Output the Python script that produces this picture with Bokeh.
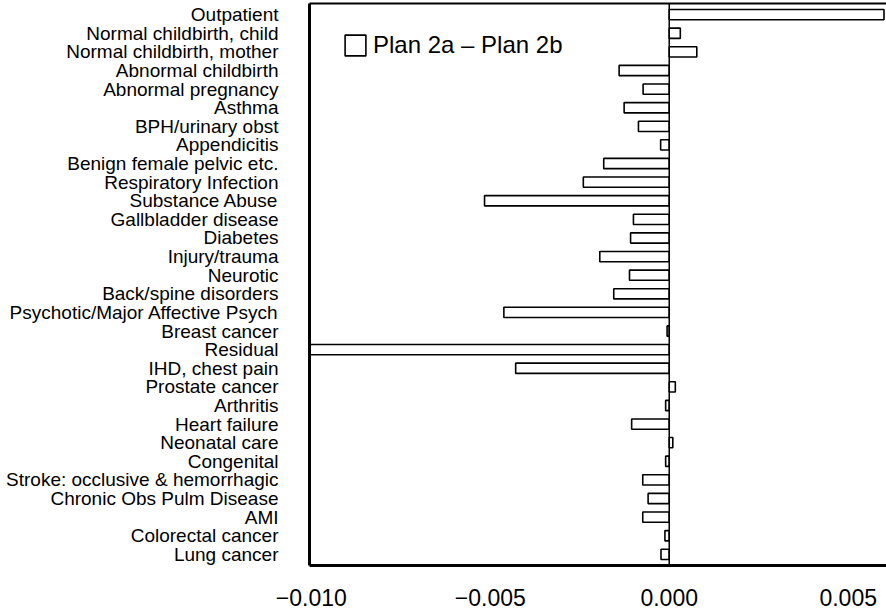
from bokeh.plotting import figure
from bokeh.models import (ColumnDataSource, FactorRange, Range1d, FixedTicker,
                          CustomJSTickFormatter, Span, LinearAxis, Legend, LegendItem)
from bokeh.embed import file_html
from bokeh.resources import INLINE

categories = [
    "Outpatient", "Normal childbirth, child", "Normal childbirth, mother",
    "Abnormal childbirth", "Abnormal pregnancy", "Asthma", "BPH/urinary obst",
    "Appendicitis", "Benign female pelvic etc.", "Respiratory Infection",
    "Substance Abuse", "Gallbladder disease", "Diabetes", "Injury/trauma",
    "Neurotic", "Back/spine disorders", "Psychotic/Major Affective Psych",
    "Breast cancer", "Residual", "IHD, chest pain", "Prostate cancer",
    "Arthritis", "Heart failure", "Neonatal care", "Congenital",
    "Stroke: occlusive & hemorrhagic", "Chronic Obs Pulm Disease", "AMI",
    "Colorectal cancer", "Lung cancer",
]
diff_2a_2b = [
    0.00600, 0.00031, 0.00077,
    -0.00140, -0.00073, -0.00126, -0.00086,
    -0.00024, -0.00183, -0.00240,
    -0.00516, -0.00100, -0.00108, -0.00194,
    -0.00111, -0.00155, -0.00462,
    -0.00006, -0.01100, -0.00429, 0.00017,
    -0.00010, -0.00105, 0.00010, -0.00010,
    -0.00074, -0.00059, -0.00074,
    -0.00012, -0.00023,
]
tick_values = [-0.010, -0.005, 0.000, 0.005]
tick_labels = ["\u22120.010", "\u22120.005", "0.000", "0.005"]
series_label = "Plan 2a \u2013 Plan 2b"

FONT = "Liberation Sans"

src = ColumnDataSource(dict(cat=categories, val=diff_2a_2b, zero=[0.0] * len(categories)))

p = figure(width=886, height=611, output_backend="svg", toolbar_location=None,
           y_range=FactorRange(factors=list(reversed(categories)),
                               range_padding=0.1, range_padding_units="absolute"),
           x_range=Range1d(-0.01005, 0.00607),
           min_border_left=309, min_border_right=0, min_border_top=3, min_border_bottom=46)

p.grid.visible = False
p.outline_line_color = None
p.background_fill_color = "white"
p.border_fill_color = "white"

r = p.hbar(y="cat", left="zero", right="val", height=0.55, source=src,
           fill_color="white", line_color="black", line_width=1.6)

p.add_layout(Span(location=0, dimension="height", line_color="black", line_width=1.5))

# axes
xa = p.xaxis[0]
xa.ticker = FixedTicker(ticks=tick_values)
xa.formatter = CustomJSTickFormatter(args=dict(tvals=tick_values, tlabels=tick_labels), code="""
    for (let i = 0; i < tvals.length; i++) {
        if (Math.abs(tick - tvals[i]) < 1e-9) return tlabels[i];
    }
    return '';
""")
xa.axis_line_width = 3
xa.axis_line_color = "black"
xa.major_tick_line_color = None
xa.minor_tick_line_color = None
xa.major_label_text_font = FONT
xa.major_label_text_font_size = "23px"
xa.major_label_text_color = "black"
xa.major_label_standoff = 17

ya = p.yaxis[0]
ya.axis_line_width = 3
ya.axis_line_color = "black"
ya.major_tick_line_color = None
ya.minor_tick_line_color = None
ya.major_tick_out = 0
ya.major_label_text_font = FONT
ya.major_label_text_font_size = "19px"
ya.major_label_text_color = "black"
ya.major_label_standoff = 31

top = LinearAxis(axis_line_width=2, axis_line_color="black",
                 major_tick_line_color=None, minor_tick_line_color=None,
                 major_label_text_color=None, major_label_text_font_size="1px",
                 major_label_standoff=0, major_tick_out=0, major_tick_in=0)
top.ticker = FixedTicker(ticks=[])
p.add_layout(top, "above")

legend = Legend(items=[LegendItem(label=series_label, renderers=[r])],
                border_line_color=None,
                background_fill_alpha=0, label_text_font=FONT,
                label_text_color="black",
                label_text_font_size="24px", glyph_width=26, glyph_height=26,
                label_standoff=5, padding=0, margin=0, spacing=0,
                label_height=26)
legend.location = (33, 506)
p.add_layout(legend)

html = file_html(p, INLINE)
open("out.html", "w").write(html)
